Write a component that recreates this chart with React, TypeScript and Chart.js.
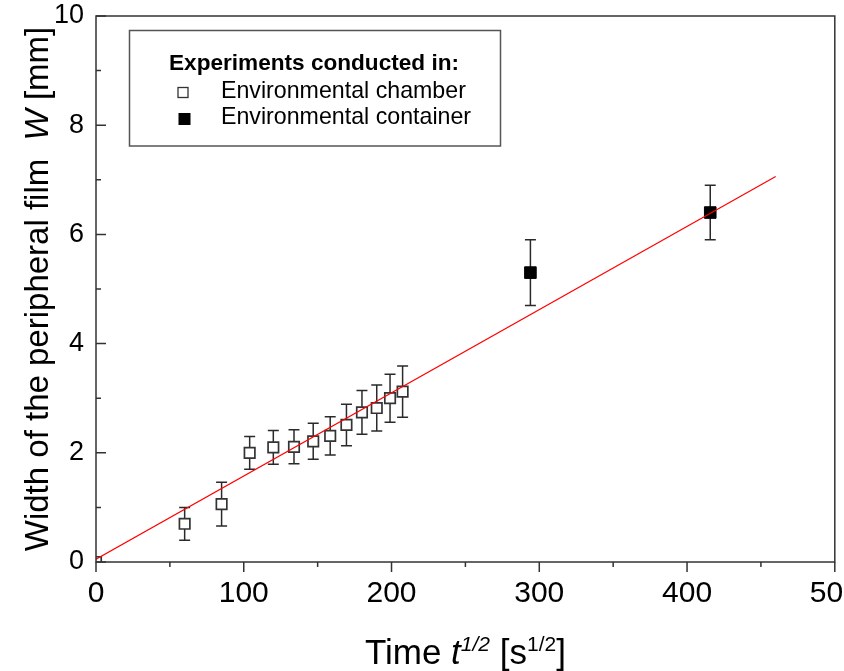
import React, { useEffect, useRef } from 'react';
import { Chart, registerables } from 'chart.js';

Chart.register(...registerables);

const FONT = "'Liberation Sans', Arial, Helvetica, sans-serif";

// Environmental chamber (open squares)
const chamberX = [0, 60, 85, 104, 120, 134, 147, 158.5, 169.5, 180, 190, 199, 207.5];
const chamberY = [0, 0.7, 1.06, 2.0, 2.1, 2.11, 2.21, 2.31, 2.51, 2.74, 2.82, 3.0, 3.12];
const chamberErr = [0, 0.3, 0.4, 0.3, 0.31, 0.31, 0.33, 0.35, 0.38, 0.4, 0.42, 0.44, 0.47];

// Environmental container (filled squares)
const containerX = [294, 415.7];
const containerY = [5.3, 6.4];
const containerErr = [0.6, 0.5];

// Linear fit line end points
const fitX = [0, 460];
const fitY = [0.05, 7.06];

const seriesLabels = ['Environmental chamber', 'Environmental container'];
const legendTitle = 'Experiments conducted in:';

const xTitleRuns = [
  { t: 'Time ', f: `35px ${FONT}`, dy: 0 },
  { t: 't', f: `italic 35px ${FONT}`, dy: 0 },
  { t: '1/2', f: `italic 21px ${FONT}`, dy: -13 },
  { t: ' [s', f: `35px ${FONT}`, dy: 0 },
  { t: '1/2', f: `21px ${FONT}`, dy: -13 },
  { t: ']', f: `35px ${FONT}`, dy: 0 },
];
const yTitleRuns = [
  { t: 'Width of the peripheral film  ', f: `33px ${FONT}`, dy: 0 },
  { t: 'W', f: `italic 33px ${FONT}`, dy: 0 },
  { t: ' [mm]', f: `33px ${FONT}`, dy: 0 },
];

function runsWidth(ctx: CanvasRenderingContext2D, runs: any[]) {
  let w = 0;
  runs.forEach((r) => {
    ctx.font = r.f;
    w += ctx.measureText(r.t).width;
  });
  return w;
}
function drawRuns(ctx: CanvasRenderingContext2D, runs: any[], x0: number, base: number) {
  let x = x0;
  runs.forEach((r) => {
    ctx.font = r.f;
    ctx.fillText(r.t, x, base + r.dy);
    x += ctx.measureText(r.t).width;
  });
}

const errorBarPlugin = {
  id: 'errorBars',
  beforeDatasetsDraw(chart: any) {
    const { ctx, chartArea, scales } = chart;
    const x = scales.x, y = scales.y;
    ctx.save();
    ctx.beginPath();
    ctx.rect(chartArea.left, chartArea.top, chartArea.right - chartArea.left, chartArea.bottom - chartArea.top);
    ctx.clip();
    ctx.strokeStyle = '#2a2a2a';
    ctx.lineWidth = 1.5;
    chart.data.datasets.forEach((ds: any) => {
      const errs = ds.errors;
      if (!errs) return;
      ds.data.forEach((p: any, i: number) => {
        const e = errs[i];
        if (!e) return;
        const px = x.getPixelForValue(p.x);
        const top = y.getPixelForValue(p.y + e);
        const bot = y.getPixelForValue(p.y - e);
        ctx.beginPath();
        ctx.moveTo(px, top);
        ctx.lineTo(px, bot);
        ctx.moveTo(px - 5.5, top);
        ctx.lineTo(px + 5.5, top);
        ctx.moveTo(px - 5.5, bot);
        ctx.lineTo(px + 5.5, bot);
        ctx.stroke();
      });
    });
    ctx.restore();
  },
};

const framePlugin = {
  id: 'frameAndText',
  afterDraw(chart: any) {
    const { ctx, chartArea, scales } = chart;
    const { left, right, top, bottom } = chartArea;
    const x = scales.x, y = scales.y;
    ctx.save();
    ctx.strokeStyle = '#333';
    ctx.lineWidth = 1.5;
    ctx.strokeRect(left, top, right - left, bottom - top);

    ctx.beginPath();
    const xt = x.ticks.map((t: any) => t.value);
    xt.forEach((v: number, i: number) => {
      const px = x.getPixelForValue(v);
      ctx.moveTo(px, bottom);
      ctx.lineTo(px, bottom + 10);
      if (i < xt.length - 1) {
        const m = x.getPixelForValue((v + xt[i + 1]) / 2);
        ctx.moveTo(m, bottom);
        ctx.lineTo(m, bottom + 5);
      }
    });
    const yt = y.ticks.map((t: any) => t.value);
    yt.forEach((v: number, i: number) => {
      const py = y.getPixelForValue(v);
      ctx.moveTo(left, py);
      ctx.lineTo(left + 10, py);
      if (i < yt.length - 1) {
        const m = y.getPixelForValue((v + yt[i + 1]) / 2);
        ctx.moveTo(left, m);
        ctx.lineTo(left + 5, m);
      }
    });
    ctx.stroke();

    // Axis titles
    ctx.fillStyle = '#000';
    ctx.textBaseline = 'alphabetic';
    ctx.textAlign = 'left';
    const cx = (left + right) / 2;
    const xw = runsWidth(ctx, xTitleRuns);
    drawRuns(ctx, xTitleRuns, cx - xw / 2, 664);

    const cy = (top + bottom) / 2;
    const yw = runsWidth(ctx, yTitleRuns);
    ctx.save();
    ctx.translate(48, cy);
    ctx.rotate(-Math.PI / 2);
    drawRuns(ctx, yTitleRuns, -yw / 2, 0);
    ctx.restore();

    // Legend
    ctx.strokeStyle = '#555';
    ctx.lineWidth = 1.5;
    ctx.strokeRect(129.5, 30.5, 371, 115.5);
    ctx.fillStyle = '#000';
    ctx.font = `bold 22.6px ${FONT}`;
    ctx.fillText(legendTitle, 169, 70);
    ctx.font = `23.2px ${FONT}`;
    ctx.textBaseline = 'middle';
    ctx.fillText(seriesLabels[0], 221, 92);
    ctx.fillText(seriesLabels[1], 221, 118);
    ctx.lineWidth = 1.3;
    ctx.strokeStyle = '#333';
    ctx.fillStyle = '#fff';
    ctx.fillRect(178, 87.5, 10, 10);
    ctx.strokeRect(178, 87.5, 10, 10);
    ctx.fillStyle = '#000';
    ctx.fillRect(178.5, 113, 12, 12);
    ctx.restore();
  },
};

export default function App() {
  const ref = useRef<HTMLCanvasElement>(null);
  useEffect(() => {
    if (!ref.current) return;
    const chart = new Chart(ref.current, {
      type: 'scatter',
      data: {
        datasets: [
          {
            label: 'fit',
            data: fitX.map((v, i) => ({ x: v, y: fitY[i] })),
            showLine: true,
            borderColor: '#ff0000',
            borderWidth: 1.2,
            pointRadius: 0,
            clip: 0,
          } as any,
          {
            label: seriesLabels[1],
            data: containerX.map((v, i) => ({ x: v, y: containerY[i] })),
            errors: containerErr,
            pointStyle: 'rect',
            pointRadius: 8.2,
            backgroundColor: '#000',
            borderColor: '#000',
            borderWidth: 1,
            clip: 0,
          } as any,
          {
            label: seriesLabels[0],
            data: chamberX.map((v, i) => ({ x: v, y: chamberY[i] })),
            errors: chamberErr,
            pointStyle: 'rect',
            pointRadius: 7.4,
            backgroundColor: '#fff',
            borderColor: '#333',
            borderWidth: 1.7,
            clip: 0,
          } as any,
        ],
      },
      options: {
        animation: false,
        responsive: false,
        events: [],
        layout: { padding: { left: 0, top: 16, right: 8, bottom: 0 } },
        plugins: { legend: { display: false }, tooltip: { enabled: false }, title: { display: false } },
        scales: {
          x: {
            type: 'linear',
            min: 0,
            max: 500,
            grid: { display: false, drawTicks: false, tickLength: 0 },
            border: { display: false },
            ticks: { stepSize: 100, padding: 14, color: '#000', font: { family: FONT, size: 30 }, maxRotation: 0 },
            afterFit: (s: any) => {
              s.height = 109;
              s.paddingLeft = 0;
              s.paddingRight = 0;
            },
          },
          y: {
            type: 'linear',
            min: 0,
            max: 10,
            grid: { display: false, drawTicks: false, tickLength: 0 },
            border: { display: false },
            ticks: { stepSize: 2, padding: 12, color: '#000', font: { family: FONT, size: 27 } },
            afterFit: (s: any) => {
              s.width = 96;
              s.paddingTop = 0;
              s.paddingBottom = 0;
            },
          },
        },
      } as any,
      plugins: [errorBarPlugin, framePlugin],
    });
    return () => chart.destroy();
  }, []);
  return (
    <div style={{ position: 'absolute', left: 0, top: 0, width: 844, height: 671, background: '#fff' }}>
      <canvas ref={ref} width={844} height={671} style={{ display: 'block', width: 844, height: 671 }} />
    </div>
  );
}
